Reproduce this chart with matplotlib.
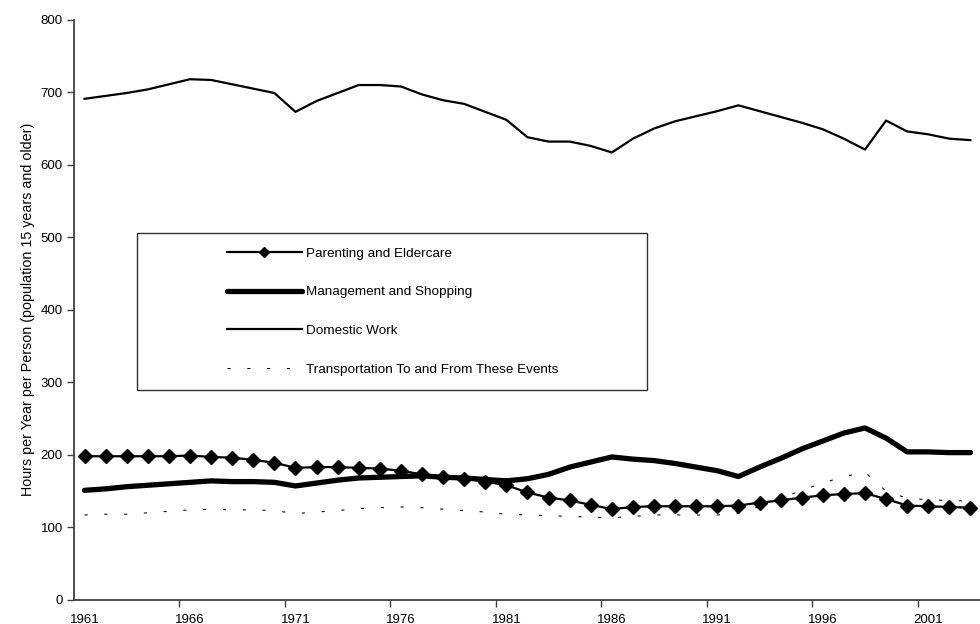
import matplotlib
matplotlib.use("Agg")
import matplotlib.pyplot as plt
from matplotlib.patches import Rectangle

plt.rcParams['font.family'] = ['Liberation Sans', 'DejaVu Sans']

# categories: one point per year
years = list(range(1961, 2004))

# series values (hours per year per person)
domestic = [691, 695, 699, 704, 711, 718, 717, 711, 705, 699, 673, 688, 699, 710, 710,
            708, 697, 689, 684, 673, 662, 638, 632, 632, 626, 617, 636, 650, 660, 667,
            674, 682, 674, 666, 658, 649, 636, 621, 661, 646, 642, 636, 634]
parenting = [198, 198, 198, 198, 198, 199, 197, 196, 193, 189, 182, 183, 183, 182, 181,
             178, 173, 169, 167, 163, 158, 148, 141, 137, 131, 125, 128, 129, 129, 129,
             129, 130, 134, 137, 141, 144, 146, 147, 139, 130, 129, 128, 127]
management = [151, 153, 156, 158, 160, 162, 164, 163, 163, 162, 157, 161, 165, 168, 169,
              170, 171, 169, 168, 166, 164, 167, 173, 183, 190, 197, 194, 192, 188, 183,
              178, 170, 183, 195, 208, 219, 230, 237, 223, 204, 204, 203, 203]
transport = [117, 118, 118, 120, 122, 124, 125, 124, 124, 123, 119, 121, 123, 126, 127,
             128, 127, 125, 123, 121, 118, 117, 116, 115, 114, 113, 115, 117, 117, 117,
             117, 119, 129, 140, 151, 161, 170, 176, 150, 140, 138, 137, 136]

labels = ['Parenting and Eldercare', 'Management and Shopping',
          'Domestic Work', 'Transportation To and From These Events']
year_ticks = [1961, 1966, 1971, 1976, 1981, 1986, 1991, 1996, 2001]
y_ticks = [0, 100, 200, 300, 400, 500, 600, 700, 800]

fig = plt.figure(figsize=(9.8, 6.24), dpi=100)
ax = fig.add_axes([0.0755, 0.0388, 0.9255, 0.9295])

ax.plot(years, parenting, color='black', lw=1.6, marker='D', markersize=7.2,
        label=labels[0], zorder=3)
ax.plot(years, management, color='black', lw=3.8, solid_capstyle='round',
        label=labels[1], zorder=2)
ax.plot(years, domestic, color='black', lw=1.6, label=labels[2], zorder=2)
ax.plot(years, transport, color='black', lw=0.75, linestyle=(0, (3, 16)),
        label=labels[3], zorder=1)

ax.set_xlim(years[0] - 0.5, years[-1] + 0.5)
ax.set_ylim(0, 800)
ax.set_yticks(y_ticks)

# excel style category axis: labels at categories, ticks between them
ax.set_xticks(year_ticks)
ax.set_xticks([y - 0.5 for y in year_ticks[1:]], minor=True)
ax.tick_params(axis='x', which='major', length=0, pad=10, labelsize=9.5)
ax.tick_params(axis='x', which='minor', length=5, width=1, color='#404040', direction='out')
ax.tick_params(axis='y', length=5, width=1, color='#404040', direction='out', pad=3,
               labelsize=9.5)

for side in ['top', 'right']:
    ax.spines[side].set_visible(False)
for side in ['left', 'bottom']:
    ax.spines[side].set_color('#404040')
    ax.spines[side].set_linewidth(1.3)

ax.set_ylabel('Hours per Year per Person (population 15 years and older)',
              fontsize=10.3, labelpad=4)

# legend box drawn like the excel one
box = Rectangle((0.1395, 0.375), 0.5204, 0.252, transform=fig.transFigure,
                facecolor='white', edgecolor='#303030', lw=1, zorder=4)
ax.add_patch(box)
box.set_clip_on(False)

leg = ax.legend(loc='upper left', bbox_to_anchor=(0.2313, 0.604),
                bbox_transform=fig.transFigure, frameon=False, fontsize=9.7,
                handlelength=5.56, handletextpad=0.35, labelspacing=1.95,
                borderpad=0, borderaxespad=0, numpoints=1, markerscale=0.7)
leg.set_zorder(5)

fig.savefig('out.png', dpi=100)
